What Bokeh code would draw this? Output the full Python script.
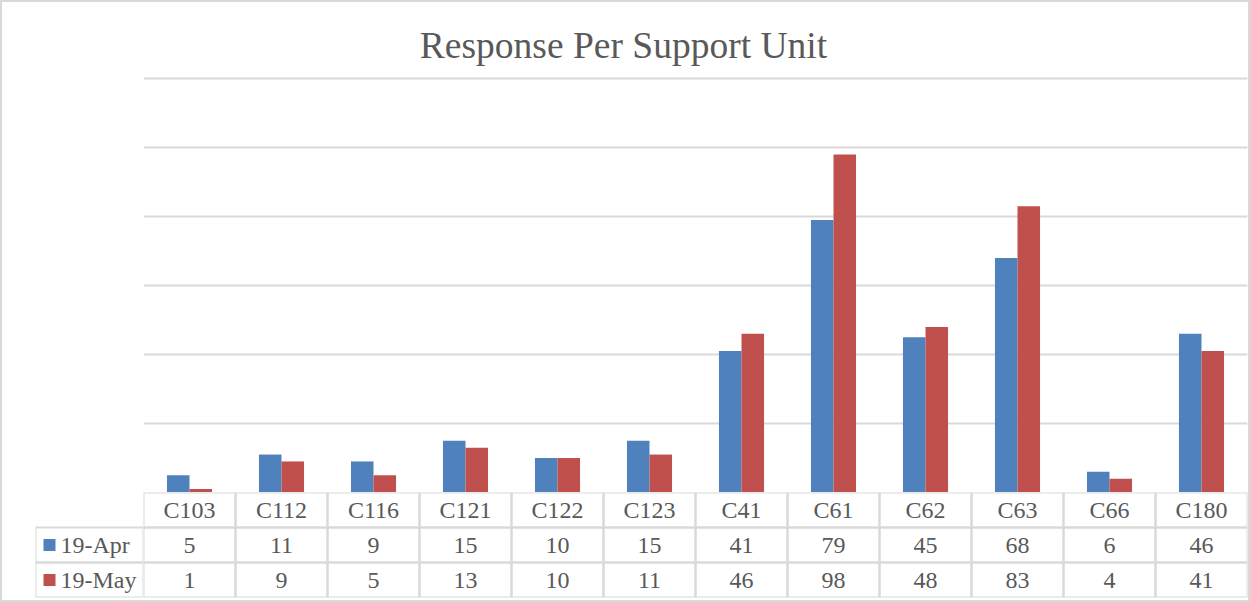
from bokeh.plotting import figure
from bokeh.models import FactorRange, Range1d, ColumnDataSource, Label, FixedTicker
from bokeh.layouts import column, row
from bokeh.transform import dodge
from bokeh.core.properties import value
from bokeh.embed import file_html
from bokeh.resources import INLINE

# ---------------- data ----------------
categories = ["C103", "C112", "C116", "C121", "C122", "C123",
              "C41", "C61", "C62", "C63", "C66", "C180"]
apr_values = [5, 11, 9, 15, 10, 15, 41, 79, 45, 68, 6, 46]
may_values = [1, 9, 5, 13, 10, 11, 46, 98, 48, 83, 4, 41]
series_names = ["19-Apr", "19-May"]
series_colors = ["#4f81bd", "#c0504d"]
grid_ticks = [0, 20, 40, 60, 80, 100, 120]
title_text = "Response Per Support Unit"

# ---------------- layout (pixels) ----------------
OUTER_W, OUTER_H, BORDER = 1250, 602, 2
W = OUTER_W - 2 * BORDER          # inner width
H = OUTER_H - 2 * BORDER
TABLE_L = 33                      # left edge of legend column
FRAME_L = 141                     # left edge of plot area / table
CAT_W = 92
FRAME_W = CAT_W * len(categories)
BASE_Y = 490                      # baseline (value 0)
GRID_TOP_Y = 76                   # y of top gridline
ROW_H = 35
TITLE_CX, TITLE_CY = 621, 43

FONT = "Liberation Serif"
TXT = "#595959"
LINE = "#d9d9d9"

px_per_unit = (BASE_Y - GRID_TOP_Y) / max(grid_ticks)
y_end = BASE_Y / px_per_unit

src = ColumnDataSource(dict(cat=categories, apr=apr_values, may=may_values))
x_range = FactorRange(factors=categories, range_padding=0)

common = dict(output_backend="svg", toolbar_location=None, tools="",
              x_axis_location=None, y_axis_location=None,
              outline_line_color=None, background_fill_color="white",
              border_fill_color="white")

# ---------------- bar chart ----------------
p = figure(width=W, height=BASE_Y, x_range=x_range,
           y_range=Range1d(0, y_end),
           min_border_left=FRAME_L, min_border_right=W - FRAME_L - FRAME_W,
           min_border_top=0, min_border_bottom=0, **common)
p.xgrid.visible = False
p.ygrid.ticker = FixedTicker(ticks=grid_ticks)
p.ygrid.grid_line_color = LINE
p.ygrid.grid_line_width = 2

bar_w = 0.245
p.vbar(x=dodge("cat", -bar_w / 2, range=x_range), top="apr", width=bar_w,
       source=src, fill_color=series_colors[0], line_color=None)
p.vbar(x=dodge("cat", bar_w / 2, range=x_range), top="may", width=bar_w,
       source=src, fill_color=series_colors[1], line_color=None)

p.add_layout(Label(x=(TITLE_CX - FRAME_L) / CAT_W, y=(BASE_Y - TITLE_CY) / px_per_unit,
                   text=title_text, text_align="center", text_baseline="middle",
                   text_font=FONT, text_font_size="37.5px", text_color=TXT))

# ---------------- data table ----------------
HEADER = "unit"
row_factors = [series_names[1], series_names[0], HEADER]
y_rows = FactorRange(factors=row_factors, range_padding=0)

cell_x, cell_y, cell_t = [], [], []
for i, c in enumerate(categories):
    cell_x += [c, c, c]
    cell_y += [HEADER, series_names[0], series_names[1]]
    cell_t += [c, str(apr_values[i]), str(may_values[i])]
cells = ColumnDataSource(dict(x=cell_x, y=cell_y, t=cell_t))

TAB_H = H - BASE_Y
tab = figure(width=W - FRAME_L, height=TAB_H, x_range=x_range, y_range=y_rows,
             min_border_left=0, min_border_right=W - FRAME_L - FRAME_W,
             min_border_top=0, min_border_bottom=TAB_H - 3 * ROW_H, **common)
tab.grid.visible = False
tab.rect(x="x", y="y", width=1, height=1, source=cells,
         fill_color=None, line_color=LINE, line_width=2)
tab.text(x="x", y="y", text="t", source=cells, text_align="center",
         text_baseline="middle", text_font=value(FONT), text_font_size="24px",
         text_color=TXT)

# legend column
leg_x = FactorRange(factors=["legend"], range_padding=0)
leg_w = FRAME_L - TABLE_L
leg = figure(width=FRAME_L, height=TAB_H, x_range=leg_x, y_range=y_rows,
             min_border_left=TABLE_L, min_border_right=0, min_border_top=0,
             min_border_bottom=TAB_H - 3 * ROW_H, **common)
leg.grid.visible = False
leg_src = ColumnDataSource(dict(x=["legend"] * len(series_names), y=series_names,
                                c=series_colors))
leg.rect(x="x", y="y", width=1, height=1, source=leg_src,
         fill_color=None, line_color=LINE, line_width=2)
leg.scatter(x=dodge("x", (14 - leg_w / 2) / leg_w, range=leg_x), y="y",
            marker="square", size=12, source=leg_src,
            fill_color="c", line_color=None)
leg.text(x="x", y="y", text="y", source=leg_src, x_offset=25 - leg_w / 2,
         text_align="left", text_baseline="middle", text_font=value(FONT),
         text_font_size="24px", text_color=TXT)

root = column(p, row(leg, tab),
              styles={"border": f"{BORDER}px solid {LINE}", "background": "white"})

open("out.html", "w").write(file_html(root, INLINE))
